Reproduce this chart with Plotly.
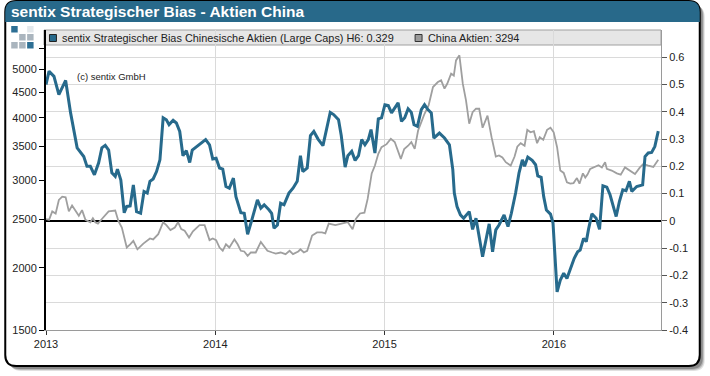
import plotly.graph_objects as go
import pandas as pd
import numpy as np

# ---------------- data ----------------
bias_t = [2013.000, 2013.018, 2013.047, 2013.076, 2013.116, 2013.145, 2013.184, 2013.223, 2013.242, 2013.262,
          2013.286, 2013.311, 2013.330, 2013.350, 2013.370, 2013.389, 2013.409, 2013.422, 2013.442, 2013.462,
          2013.477, 2013.497, 2013.516, 2013.535, 2013.559, 2013.579, 2013.598, 2013.614, 2013.633, 2013.653,
          2013.673, 2013.692, 2013.711, 2013.727, 2013.751, 2013.770, 2013.790, 2013.809, 2013.829, 2013.849,
          2013.864, 2013.887, 2013.917, 2013.943, 2013.966, 2013.985, 2014.005, 2014.025, 2014.044, 2014.063,
          2014.083, 2014.107, 2014.122, 2014.151, 2014.171, 2014.191, 2014.216, 2014.249, 2014.269, 2014.289,
          2014.318, 2014.333, 2014.347, 2014.367, 2014.386, 2014.406, 2014.435, 2014.459, 2014.484, 2014.503,
          2014.517, 2014.543, 2014.562, 2014.582, 2014.607, 2014.636, 2014.679, 2014.699, 2014.728, 2014.744,
          2014.767, 2014.783, 2014.806, 2014.826, 2014.846, 2014.865, 2014.884, 2014.904, 2014.920, 2014.943,
          2014.963, 2014.982, 2015.002, 2015.022, 2015.041, 2015.080, 2015.100, 2015.119, 2015.139, 2015.158,
          2015.174, 2015.194, 2015.217, 2015.236, 2015.256, 2015.276, 2015.291, 2015.324, 2015.354, 2015.383,
          2015.403, 2015.412, 2015.428, 2015.448, 2015.467, 2015.500, 2015.520, 2015.540, 2015.579, 2015.618,
          2015.638, 2015.657, 2015.676, 2015.706, 2015.729, 2015.749, 2015.774, 2015.794, 2015.814, 2015.827,
          2015.846, 2015.872, 2015.892, 2015.905, 2015.925, 2015.940, 2015.956, 2015.980, 2015.995, 2016.019,
          2016.038, 2016.058, 2016.077, 2016.097, 2016.120, 2016.140, 2016.155, 2016.175, 2016.191, 2016.204,
          2016.224, 2016.249, 2016.269, 2016.289, 2016.312, 2016.331, 2016.367, 2016.386, 2016.406, 2016.425,
          2016.445, 2016.459, 2016.488, 2016.523, 2016.537, 2016.556, 2016.576, 2016.595, 2016.615]
bias_v = [0.500, 0.549, 0.530, 0.463, 0.515, 0.397, 0.268, 0.236, 0.200, 0.200,
          0.169, 0.213, 0.268, 0.277, 0.260, 0.176, 0.163, 0.190, 0.150, 0.030,
          0.053, 0.055, 0.132, 0.034, 0.028, 0.108, 0.102, 0.145, 0.154, 0.181,
          0.224, 0.378, 0.371, 0.353, 0.369, 0.359, 0.328, 0.239, 0.258, 0.214,
          0.260, 0.271, 0.286, 0.298, 0.279, 0.227, 0.230, 0.194, 0.190, 0.126,
          0.120, 0.157, 0.089, 0.030, 0.028, -0.049, 0.004, 0.077, 0.047, 0.059,
          0.040, 0.028, -0.027, -0.015, 0.065, 0.059, 0.102, 0.120, 0.145, 0.239,
          0.181, 0.194, 0.313, 0.328, 0.300, 0.276, 0.398, 0.390, 0.371, 0.313,
          0.197, 0.239, 0.255, 0.222, 0.239, 0.298, 0.279, 0.298, 0.335, 0.249,
          0.374, 0.378, 0.426, 0.423, 0.396, 0.433, 0.365, 0.378, 0.411, 0.398,
          0.353, 0.347, 0.408, 0.426, 0.408, 0.396, 0.304, 0.322, 0.304, 0.279,
          0.188, 0.102, 0.053, 0.022, 0.010, 0.034, -0.031, 0.010, -0.131, -0.011,
          -0.113, -0.033, -0.015, 0.022, -0.021, 0.028, 0.102, 0.175, 0.224, 0.200,
          0.234, 0.222, 0.206, 0.165, 0.160, 0.089, 0.040, 0.025, -0.008, -0.260,
          -0.217, -0.192, -0.211, -0.174, -0.137, -0.113, -0.107, -0.064, -0.076, -0.031,
          0.026, 0.010, -0.031, 0.129, 0.124, 0.096, 0.016, 0.071, 0.114, 0.111,
          0.145, 0.108, 0.126, 0.132, 0.236, 0.249, 0.251, 0.273, 0.329]

index_t = [2013.000, 2013.018, 2013.037, 2013.057, 2013.076, 2013.096, 2013.116, 2013.135, 2013.154, 2013.174,
           2013.194, 2013.213, 2013.233, 2013.262, 2013.277, 2013.291, 2013.307, 2013.330, 2013.370, 2013.409,
           2013.428, 2013.448, 2013.477, 2013.497, 2013.516, 2013.540, 2013.575, 2013.614, 2013.633, 2013.663,
           2013.692, 2013.711, 2013.735, 2013.761, 2013.780, 2013.799, 2013.819, 2013.845, 2013.868, 2013.907,
           2013.937, 2013.966, 2013.985, 2014.005, 2014.025, 2014.044, 2014.063, 2014.083, 2014.113, 2014.132,
           2014.151, 2014.171, 2014.191, 2014.210, 2014.239, 2014.269, 2014.289, 2014.308, 2014.337, 2014.357,
           2014.386, 2014.415, 2014.439, 2014.459, 2014.490, 2014.503, 2014.523, 2014.543, 2014.572, 2014.601,
           2014.630, 2014.650, 2014.670, 2014.709, 2014.758, 2014.783, 2014.811, 2014.830, 2014.855, 2014.881,
           2014.900, 2014.924, 2014.943, 2014.963, 2014.982, 2015.012, 2015.037, 2015.060, 2015.096, 2015.116,
           2015.139, 2015.158, 2015.178, 2015.198, 2015.217, 2015.236, 2015.260, 2015.286, 2015.315, 2015.334,
           2015.354, 2015.370, 2015.393, 2015.409, 2015.422, 2015.442, 2015.462, 2015.481, 2015.500, 2015.520,
           2015.540, 2015.559, 2015.579, 2015.608, 2015.632, 2015.657, 2015.676, 2015.696, 2015.716, 2015.745,
           2015.768, 2015.784, 2015.804, 2015.827, 2015.843, 2015.862, 2015.882, 2015.901, 2015.917, 2015.937,
           2015.960, 2015.980, 2015.999, 2016.019, 2016.038, 2016.058, 2016.077, 2016.097, 2016.116, 2016.136,
           2016.151, 2016.171, 2016.185, 2016.198, 2016.214, 2016.243, 2016.263, 2016.283, 2016.302, 2016.312,
           2016.341, 2016.371, 2016.394, 2016.419, 2016.449, 2016.478, 2016.507, 2016.527, 2016.556, 2016.586,
           2016.615]
index_v = [2505, 2495, 2595, 2570, 2736, 2778, 2770, 2595, 2666, 2605,
           2544, 2610, 2495, 2468, 2515, 2468, 2452, 2505, 2595, 2605,
           2480, 2409, 2196, 2229, 2265, 2178, 2236, 2290, 2280, 2336,
           2468, 2435, 2380, 2409, 2468, 2390, 2373, 2300, 2366, 2435,
           2435, 2272, 2290, 2272, 2196, 2163, 2229, 2196, 2280, 2229,
           2163, 2156, 2113, 2146, 2146, 2254, 2212, 2163, 2146, 2136,
           2146, 2130, 2163, 2130, 2156, 2178, 2146, 2163, 2321, 2355,
           2355, 2345, 2452, 2435, 2458, 2468, 2390, 2505, 2570, 2580,
           2749, 3093, 3207, 3386, 3491, 3540, 3629, 3575, 3307, 3463,
           3515, 3575, 3463, 3771, 3920, 4074, 4234, 4610, 4718, 4755,
           4576, 4680, 4905, 4860, 5214, 5337, 4683, 4333, 3891, 4104,
           4170, 4170, 3819, 4040, 3657, 3344, 3360, 3330, 3257, 3207,
           3344, 3500, 3557, 3515, 3783, 3740, 3758, 3557, 3657, 3611,
           3783, 3819, 3740, 3491, 3134, 3100, 2969, 2950, 2957, 3027,
           2950, 3093, 3034, 3076, 3158, 3187, 3213, 3180, 3257, 3158,
           3134, 3093, 3076, 3180, 3134, 3085, 3180, 3230, 3207, 3187,
           3294]

year_ticks = ["2013-01-01", "2014-01-01", "2015-01-01", "2016-01-01"]
year_labels = ["2013", "2014", "2015", "2016"]
left_ticks = [1500, 2000, 2500, 3000, 3500, 4000, 4500, 5000, 5500]
left_labels = ["1500", "2000", "2500", "3000", "3500", "4000", "4500", "5000", ""]
right_ticks = [-0.4, -0.3, -0.2, -0.1, 0, 0.1, 0.2, 0.3, 0.4, 0.5, 0.6]
right_labels = ["-0.4", "-0.3", "-0.2", "-0.1", "0", "0.1", "0.2", "0.3", "0.4", "0.5", "0.6"]

title_text = "sentix Strategischer Bias - Aktien China"
bias_name = "sentix Strategischer Bias Chinesische Aktien (Large Caps) H6: 0.329"
index_name = "China Aktien: 3294"
copyright_text = "(c) sentix GmbH"


def to_dates(ts):
    out = []
    for t in ts:
        y = int(np.floor(t + 1e-9))
        start = pd.Timestamp(f"{y}-01-01")
        days = (pd.Timestamp(f"{y + 1}-01-01") - start).days
        out.append(start + pd.Timedelta(days=(t - y) * days))
    return out


# ---------------- geometry ----------------
W, H = 710, 376
L, R, T, B = 42, 661, 30, 330
PW, PH = R - L, B - T


def px(x):
    return (x - L) / PW


def py(y):
    return (B - y) / PH


def rrect_path(x0, y0, x1, y1, r, top_only=False):
    rb = 0 if top_only else r
    p = f"M {px(x0 + r)},{py(y0)} L {px(x1 - r)},{py(y0)} Q {px(x1)},{py(y0)} {px(x1)},{py(y0 + r)} "
    p += f"L {px(x1)},{py(y1 - rb)} "
    if rb:
        p += f"Q {px(x1)},{py(y1)} {px(x1 - rb)},{py(y1)} "
    p += f"L {px(x0 + rb)},{py(y1)} "
    if rb:
        p += f"Q {px(x0)},{py(y1)} {px(x0)},{py(y1 - rb)} "
    p += f"L {px(x0)},{py(y0 + r)} Q {px(x0)},{py(y0)} {px(x0 + r)},{py(y0)} Z"
    return p


BLUE = "#276a8c"
GRAY = "#9f9f9f"
FONT = "Liberation Sans, Arial, sans-serif"

fig = go.Figure()
fig.add_trace(go.Scatter(x=to_dates(index_t), y=index_v, mode="lines", name=index_name,
                         line=dict(color=GRAY, width=1.8), yaxis="y", showlegend=False))
fig.add_trace(go.Scatter(x=to_dates(bias_t), y=bias_v, mode="lines", name=bias_name,
                         line=dict(color=BLUE, width=3), yaxis="y2", showlegend=False))

shapes = []
# shadow
for off, a in [(5, 0.12), (4, 0.18), (3, 0.25)]:
    shapes.append(dict(type="path", xref="paper", yref="paper", layer="below",
                       path=rrect_path(1 + off, 1 + off, 700 + off, 366 + off, 11),
                       fillcolor=f"rgba(0,0,0,{a})", line=dict(width=0)))
# frame
shapes.append(dict(type="path", xref="paper", yref="paper", layer="below",
                   path=rrect_path(1, 1, 700, 366, 11), fillcolor="white",
                   line=dict(color="black", width=2)))
# title bar
shapes.append(dict(type="path", xref="paper", yref="paper", layer="below",
                   path=rrect_path(1, 1, 700, 22, 11, top_only=True), fillcolor="#28698a",
                   line=dict(color="black", width=0)))
# legend band
shapes.append(dict(type="rect", xref="paper", yref="paper", layer="below",
                   x0=px(40), x1=px(661), y0=py(45), y1=py(30),
                   fillcolor="#e6e6e6", line=dict(color="#a0a0a0", width=1)))
# legend markers
shapes.append(dict(type="rect", xref="paper", yref="paper", layer="above",
                   x0=px(45.5), x1=px(52.5), y0=py(41.5), y1=py(34.5),
                   fillcolor=BLUE, line=dict(color="#222", width=1)))
shapes.append(dict(type="rect", xref="paper", yref="paper", layer="above",
                   x0=px(413.5), x1=px(420.5), y0=py(41.5), y1=py(34.5),
                   fillcolor="#9b9b9b", line=dict(color="#333", width=1)))
# logo squares
logo = [(0, 0, "#2d6f94"), (2, 0, "#e3e8ec"), (1, 1, "#aab5be"), (2, 1, "#aab5be"),
        (0, 2, "#aab5be"), (1, 2, "#aab5be"), (2, 2, "#2d6f94")]
for c, rr, col in logo:
    x0 = 7 + c * 8
    y0 = 26 + rr * 8
    shapes.append(dict(type="rect", xref="paper", yref="paper", layer="above",
                       x0=px(x0), x1=px(x0 + 6.5), y0=py(y0 + 6.5), y1=py(y0),
                       fillcolor=col, line=dict(width=0)))

annotations = [
    dict(xref="paper", yref="paper", x=px(5), y=py(11.5), xanchor="left", yanchor="middle",
         text=f"<b>{title_text}</b>", showarrow=False,
         font=dict(family=FONT, size=15.5, color="white")),
    dict(xref="paper", yref="paper", x=px(56), y=py(38), xanchor="left", yanchor="middle",
         text=bias_name, showarrow=False, font=dict(family=FONT, size=10.9, color="#222")),
    dict(xref="paper", yref="paper", x=px(424), y=py(38), xanchor="left", yanchor="middle",
         text=index_name, showarrow=False, font=dict(family=FONT, size=10.9, color="#222")),
    dict(xref="paper", yref="paper", x=px(71), y=py(76), xanchor="left", yanchor="middle",
         text=copyright_text, showarrow=False, font=dict(family=FONT, size=9.5, color="#222")),
]

fig.update_layout(
    width=W, height=H,
    margin=dict(l=L, r=W - R, t=T, b=H - B, pad=0),
    paper_bgcolor="white", plot_bgcolor="rgba(0,0,0,0)",
    shapes=shapes, annotations=annotations,
    font=dict(family=FONT, size=11, color="#222"),
    xaxis=dict(type="date", range=["2013-01-01", "2016-08-19"], tickvals=year_ticks,
               ticktext=year_labels, showgrid=True, gridcolor="#dadada", gridwidth=1,
               ticks="outside", ticklen=4, tickcolor="#333", showline=True,
               linecolor="#9a9a9a", linewidth=1, zeroline=False,
               tickfont=dict(family=FONT, size=11, color="#222")),
    yaxis=dict(type="log", range=[np.log10(1500), np.log10(6000)], tickvals=left_ticks,
               ticktext=left_labels, showgrid=False, ticks="outside", ticklen=5,
               tickcolor="black", showline=True, linecolor="black", linewidth=2,
               zeroline=False, tickfont=dict(family=FONT, size=11, color="#222")),
    yaxis2=dict(overlaying="y", side="right", range=[-0.4, 0.7], tickvals=right_ticks,
                ticktext=right_labels, showgrid=True, gridcolor="#dadada", gridwidth=1,
                ticks="outside", ticklen=5, tickcolor="#555", showline=True,
                linecolor="#9a9a9a", linewidth=1, zeroline=True, zerolinecolor="black",
                zerolinewidth=2, tickfont=dict(family=FONT, size=11, color="#222")),
)

fig.write_html("out.html", config={"displayModeBar": False},
               post_script="document.body.style.margin='0';document.body.style.overflow='hidden';")
